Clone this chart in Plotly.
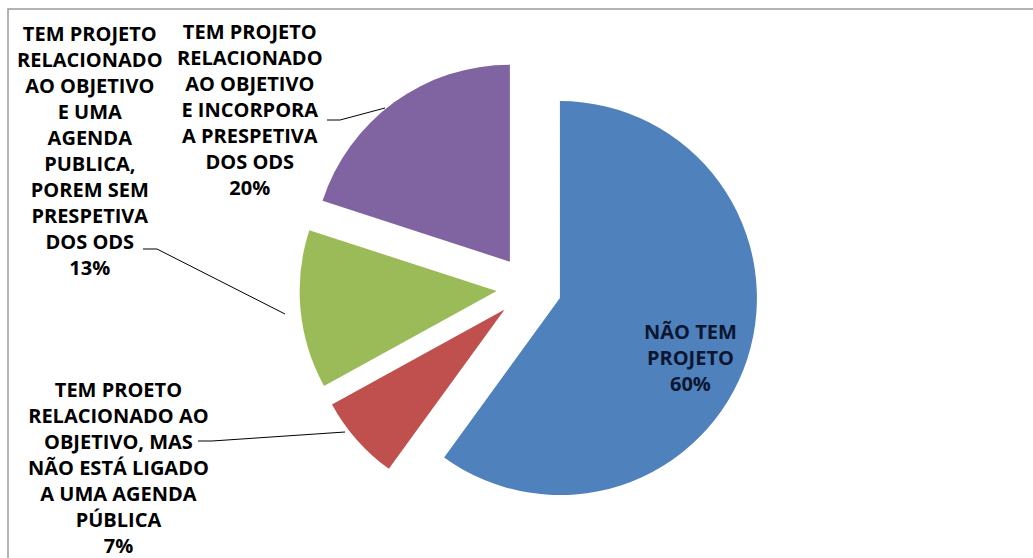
import plotly.graph_objects as go

# ---- data ----
labels = [
    "NÃO TEM PROJETO",
    "TEM PROETO RELACIONADO AO OBJETIVO, MAS NÃO ESTÁ LIGADO A UMA AGENDA PÚBLICA",
    "TEM PROJETO RELACIONADO AO OBJETIVO E UMA AGENDA PUBLICA, POREM SEM PRESPETIVA DOS ODS",
    "TEM PROJETO RELACIONADO AO OBJETIVO E INCORPORA A PRESPETIVA DOS ODS",
]
label_lines = [
    ["NÃO TEM", "PROJETO"],
    ["TEM PROETO", "RELACIONADO AO", "OBJETIVO, MAS", "NÃO ESTÁ LIGADO", "A UMA AGENDA", "PÚBLICA"],
    ["TEM PROJETO", "RELACIONADO", "AO OBJETIVO", "E UMA", "AGENDA", "PUBLICA,", "POREM SEM",
     "PRESPETIVA", "DOS ODS"],
    ["TEM PROJETO", "RELACIONADO", "AO OBJETIVO", "E INCORPORA", "A PRESPETIVA", "DOS ODS"],
]
values = [60, 7, 13, 20]
colors = ["#4F81BD", "#C0504D", "#9BBB59", "#8064A2"]

W, H = 1033, 558


def px(x):
    return x / W


def py(y):
    return 1 - y / H


# pie geometry (pixels): centre and radius
cx, cy, r, pull = 529, 288, 197, 0.165
box = 2 * r * (1 + pull)

fig = go.Figure()
fig.add_trace(go.Pie(
    labels=labels,
    values=values,
    sort=False,
    direction="clockwise",
    rotation=0,
    pull=[pull] * len(values),
    marker=dict(colors=colors, line=dict(width=0)),
    textinfo="none",
    hoverinfo="label+percent",
    showlegend=False,
    domain=dict(x=[px(cx - box / 2), px(cx + box / 2)],
                y=[py(cy + box / 2), py(cy - box / 2)]),
))

total = sum(values)
pcts = [f"{round(v / total * 100)}%" for v in values]

# label centres (pixels) for each slice
label_pos = [(690, 358), (118, 467), (90, 150), (250, 110)]
label_colors = ["#0b1630", "#000000", "#000000", "#000000"]

annotations = []
for lines, pct, (lx, ly), c in zip(label_lines, pcts, label_pos, label_colors):
    annotations.append(dict(
        x=px(lx), y=py(ly), xref="paper", yref="paper",
        text="<b>" + "<br>".join(lines + [pct]) + "</b>",
        showarrow=False, xanchor="center", yanchor="middle",
        font=dict(family="Open Sans", size=20, color=c),
    ))


def path(points):
    return "M " + " L ".join(f"{px(x)},{py(y)}" for x, y in points)


shapes = [
    # chart frame
    dict(type="rect", xref="paper", yref="paper", x0=px(8), y0=py(9), x1=px(1045), y1=py(575),
         line=dict(color="#9a9a9a", width=1.5), fillcolor="rgba(0,0,0,0)", layer="below"),
    # leader lines
    dict(type="path", xref="paper", yref="paper", path=path([(327, 120), (340, 120), (385, 108)]),
         line=dict(color="black", width=1), layer="below"),
    dict(type="path", xref="paper", yref="paper", path=path([(143, 249), (157, 249), (285, 314)]),
         line=dict(color="black", width=1), layer="below"),
    dict(type="path", xref="paper", yref="paper", path=path([(198, 441), (212, 441), (345, 432)]),
         line=dict(color="black", width=1), layer="below"),
]

fig.update_layout(
    width=W, height=H,
    margin=dict(l=0, r=0, t=0, b=0),
    paper_bgcolor="white",
    plot_bgcolor="white",
    annotations=annotations,
    shapes=shapes,
)

fig.write_html(
    "out.html",
    config={"displayModeBar": False},
    post_script="document.body.style.margin='0';document.body.style.overflow='hidden';",
)
